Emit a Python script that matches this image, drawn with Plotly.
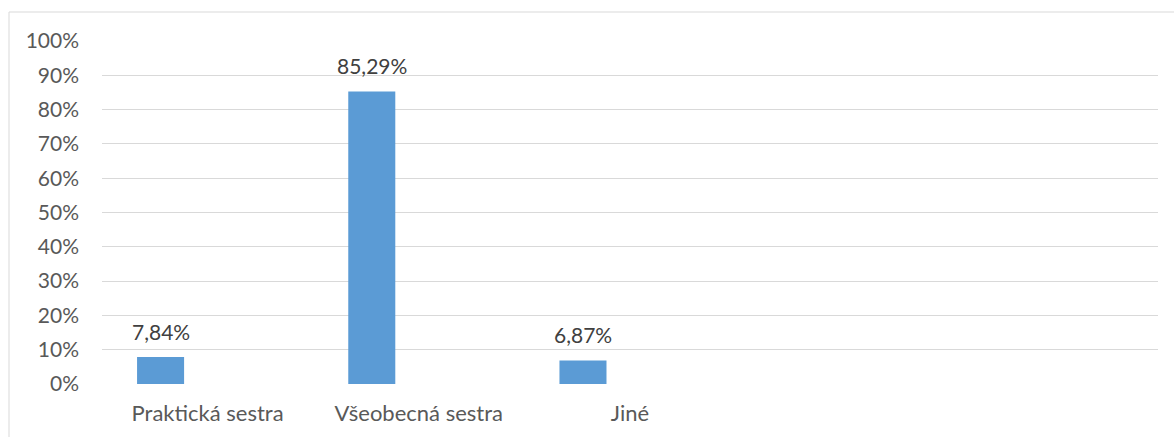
import plotly.graph_objects as go

# Category slots on the x axis (the last two are empty)
categories = ["Praktická sestra", "Všeobecná sestra", "Jiné", "", ""]
share_pct = [7.84, 85.29, 6.87, None, None]
y_ticks = [0, 10, 20, 30, 40, 50, 60, 70, 80, 90, 100]

BAR_COLOR = "#5B9BD5"
FONT = "Lato"
SIZE = 21

positions = list(range(len(categories)))

fig = go.Figure()
# three series per category; only the first one carries values
fig.add_trace(go.Bar(x=positions, y=share_pct, marker=dict(color=BAR_COLOR, line=dict(width=0)),
                     hoverinfo="skip", showlegend=False))
for _ in range(2):
    fig.add_trace(go.Bar(x=positions, y=[None] * len(positions), marker=dict(color=BAR_COLOR),
                         hoverinfo="skip", showlegend=False))

# data labels above the first-series bars (offset to the first slot of each group)
for i, v in enumerate(share_pct):
    if v is None:
        continue
    fig.add_annotation(x=i, y=v, xshift=-47, yshift=26,
                       text=f"{v:.2f}".replace(".", ",") + "%", showarrow=False,
                       font=dict(family=FONT, size=SIZE, color="#404040"))

fig.update_layout(
    width=1174, height=437,
    margin=dict(l=102, r=16, t=41, b=53),
    paper_bgcolor="white", plot_bgcolor="white",
    barmode="group", bargap=0.332, bargroupgap=0,
    font=dict(family=FONT, size=SIZE, color="#595959"),
    xaxis=dict(range=[-0.5, len(categories) - 0.5], tickvals=positions, ticktext=categories,
               showgrid=False, zeroline=False, showline=False, ticks="",
               ticklabelstandoff=14, tickfont=dict(family=FONT, size=22, color="#595959")),
    yaxis=dict(range=[0, 100], tickvals=y_ticks, ticktext=[f"{t}%" for t in y_ticks],
               showgrid=True, gridcolor="#D9D9D9", gridwidth=1, zeroline=False,
               showline=False, ticks="", ticklabelstandoff=22,
               tickfont=dict(family=FONT, size=SIZE, color="#595959")),
    shapes=[dict(type="rect", xref="paper", yref="paper",
                 x0=-93 / 1056, x1=1.1, y0=-0.3, y1=(384 - 12) / 343,
                 line=dict(color="#D9D9D9", width=1), fillcolor="rgba(0,0,0,0)", layer="below")],
)

fig.write_html("out.html")
